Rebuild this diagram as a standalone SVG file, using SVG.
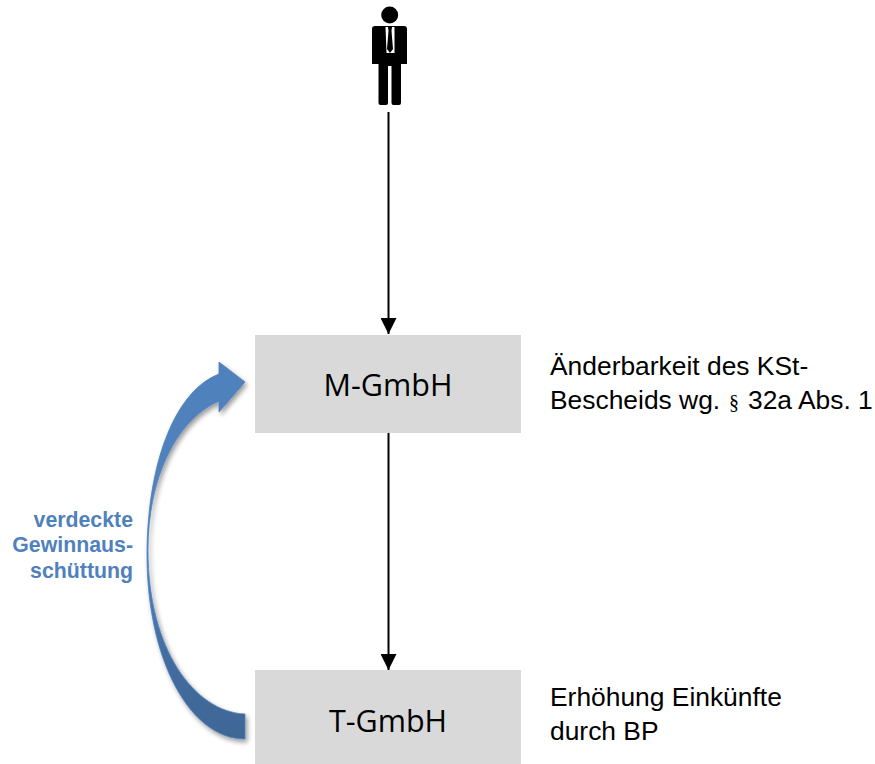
<svg xmlns="http://www.w3.org/2000/svg" width="875" height="764" viewBox="0 0 875 764">
<style>
.box{fill:#d9d9d9}
.boxt{font-family:"Open Sans","Noto Sans",sans-serif;font-size:30.500px;fill:#000;text-anchor:middle}
.note{font-family:"Liberation Sans",Arial,sans-serif;font-size:26.400px;fill:#000}
.sec{font-family:"Liberation Serif","Times New Roman",serif;font-size:20px}
.lab{font-family:"Liberation Sans",Arial,sans-serif;font-size:21.300px;font-weight:bold;fill:#4f81bd;text-anchor:end}
.conn{stroke:#000;stroke-width:2;fill:none;marker-end:url(#ah)}
</style>
<defs>
<marker id="ah" markerUnits="userSpaceOnUse" markerWidth="16" markerHeight="16" refX="16" refY="8" orient="auto"><path d="M0 0L16 8L0 16Z" fill="#000"/></marker>
<linearGradient id="cg" x1="0" y1="0" x2="0" y2="1"><stop offset="0.55" stop-color="#4f81bd"/><stop offset="0.75" stop-color="#446ea1"/><stop offset="1" stop-color="#3f6696"/></linearGradient>
<filter id="sh" x="-20%" y="-10%" width="140%" height="120%"><feGaussianBlur in="SourceAlpha" stdDeviation="2.5"/><feOffset dx="2" dy="3"/><feComponentTransfer><feFuncA type="linear" slope="0.4"/></feComponentTransfer><feMerge><feMergeNode/><feMergeNode in="SourceGraphic"/></feMerge></filter>
</defs>
<rect width="875" height="764" fill="#fff"/>
<g id="person">
<circle cx="389.7" cy="15" r="8.5" fill="#000"/>
<path d="M375 26H404Q407 26 407 29V64H401V103Q401 105 399 105H393.500Q391.500 105 391.500 103V66H388V103Q388 105 386 105H380.500Q378.500 105 378.500 103V64H372V29Q372 26 375 26Z" fill="#000"/>
<path d="M385.500 27H394.500V53H386.500Z" fill="#fff"/>
<path d="M388 27H392L391.500 31L393 49L390 53L387 49L388.500 31Z" fill="#000"/>
</g>
<g id="connectors">
<path class="conn" d="M388.500 112V334"/>
<path class="conn" d="M388.500 433V670"/>
</g>
<g id="m-gmbh">
<rect class="box" x="255" y="335" width="266" height="98"/>
<text class="boxt" x="388" y="396">M-GmbH</text>
</g>
<g id="t-gmbh">
<rect class="box" x="255" y="670" width="266" height="94"/>
<text class="boxt" x="388" y="732">T-GmbH</text>
</g>
<g id="note-m">
<text class="note" x="550" y="375">Änderbarkeit des KSt-</text>
<text class="note" x="550" y="409">Bescheids wg. <tspan class="sec" x="729">§</tspan><tspan x="748">32a Abs. 1</tspan></text>
</g>
<g id="note-t">
<text class="note" x="550" y="706">Erhöhung Einkünfte</text>
<text class="note" x="550" y="740">durch BP</text>
</g>
<g id="vga">
<path filter="url(#sh)" fill="url(#cg)" stroke="#4f81bd" stroke-width="0.800" d="M245 382L219 362V374C172 392 147 470 147 555C147 660 190 739 245 739V714C195 712 148 650 148 550C148 480 175 420 219 401V412Z"/>
<text class="lab" x="133" y="527">verdeckte</text>
<text class="lab" x="133" y="552">Gewinnaus-</text>
<text class="lab" x="133" y="578">schüttung</text>
</g>
</svg>
